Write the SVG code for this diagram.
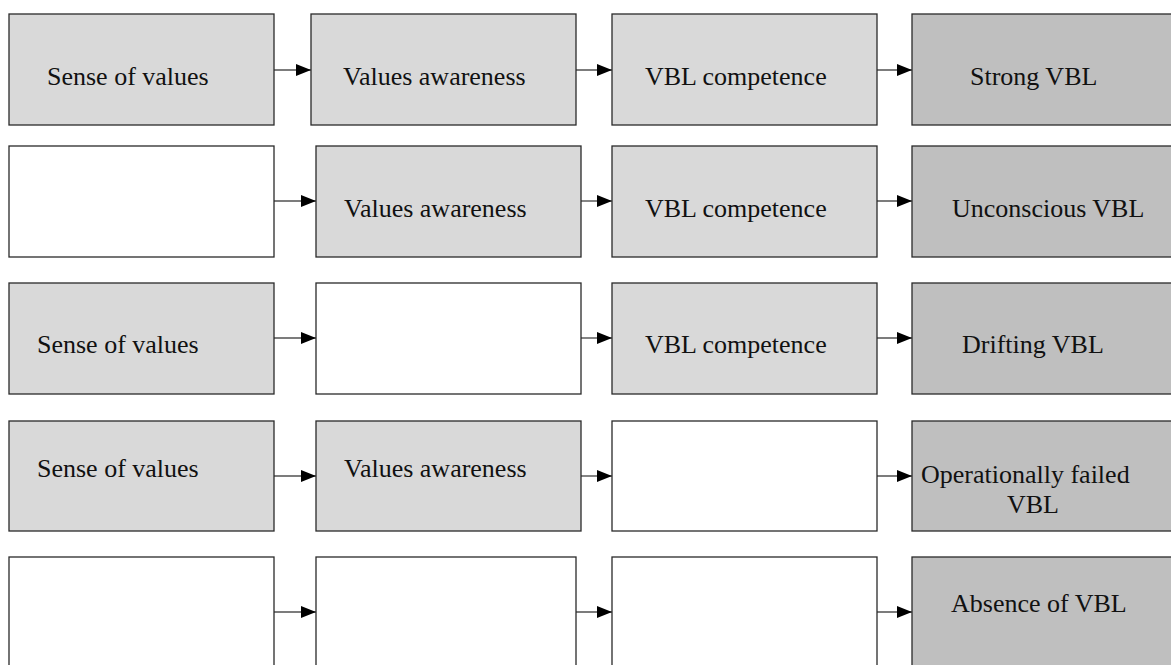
<svg xmlns="http://www.w3.org/2000/svg" width="1171" height="665" viewBox="0 0 1171 665">
<style>
.b{stroke:#2a2a2a;stroke-width:1.3}
.l{fill:#d9d9d9}
.d{fill:#bfbfbf}
.w{fill:#ffffff}
text{font-family:"Liberation Serif","Times New Roman",serif;font-size:26px;fill:#111}
.c line{stroke:#505050;stroke-width:1.4}
</style>
<defs>
<marker id="ah" viewBox="0 0 15 12" refX="15" refY="6" markerWidth="15" markerHeight="12" markerUnits="userSpaceOnUse" orient="auto">
<path d="M0,0 L15,6 L0,12 Z" fill="#000"/>
</marker>
</defs>
<rect width="1171" height="665" fill="#fff"/>
<g class="c" id="connectors">
<line x1="274" y1="70" x2="311" y2="70" marker-end="url(#ah)"/>
<line x1="576" y1="70" x2="612" y2="70" marker-end="url(#ah)"/>
<line x1="877" y1="70" x2="912" y2="70" marker-end="url(#ah)"/>
<line x1="274" y1="201" x2="316" y2="201" marker-end="url(#ah)"/>
<line x1="581" y1="201" x2="612" y2="201" marker-end="url(#ah)"/>
<line x1="877" y1="201" x2="912" y2="201" marker-end="url(#ah)"/>
<line x1="274" y1="338" x2="316" y2="338" marker-end="url(#ah)"/>
<line x1="581" y1="338" x2="612" y2="338" marker-end="url(#ah)"/>
<line x1="877" y1="338" x2="912" y2="338" marker-end="url(#ah)"/>
<line x1="274" y1="476" x2="316" y2="476" marker-end="url(#ah)"/>
<line x1="581" y1="476" x2="612" y2="476" marker-end="url(#ah)"/>
<line x1="877" y1="476" x2="912" y2="476" marker-end="url(#ah)"/>
<line x1="274" y1="612" x2="316" y2="612" marker-end="url(#ah)"/>
<line x1="576" y1="612" x2="612" y2="612" marker-end="url(#ah)"/>
<line x1="877" y1="612" x2="912" y2="612" marker-end="url(#ah)"/>
</g>
<g id="r1b1"><rect class="b l" x="9" y="14" width="265" height="111"/><text x="47" y="85">Sense of values</text></g>
<g id="r1b2"><rect class="b l" x="311" y="14" width="265" height="111"/><text x="343" y="85">Values awareness</text></g>
<g id="r1b3"><rect class="b l" x="612" y="14" width="265" height="111"/><text x="645" y="85">VBL competence</text></g>
<g id="r1b4"><rect class="b d" x="912" y="14" width="270" height="111"/><text x="970" y="85">Strong VBL</text></g>

<g id="r2b1"><rect class="b w" x="9" y="146" width="265" height="111"/></g>
<g id="r2b2"><rect class="b l" x="316" y="146" width="265" height="111"/><text x="344" y="217">Values awareness</text></g>
<g id="r2b3"><rect class="b l" x="612" y="146" width="265" height="111"/><text x="645" y="217">VBL competence</text></g>
<g id="r2b4"><rect class="b d" x="912" y="146" width="270" height="111"/><text x="952" y="217">Unconscious VBL</text></g>

<g id="r3b1"><rect class="b l" x="9" y="283" width="265" height="111"/><text x="37" y="353">Sense of values</text></g>
<g id="r3b2"><rect class="b w" x="316" y="283" width="265" height="111"/></g>
<g id="r3b3"><rect class="b l" x="612" y="283" width="265" height="111"/><text x="645" y="353">VBL competence</text></g>
<g id="r3b4"><rect class="b d" x="912" y="283" width="270" height="111"/><text x="962" y="353">Drifting VBL</text></g>

<g id="r4b1"><rect class="b l" x="9" y="421" width="265" height="110"/><text x="37" y="477">Sense of values</text></g>
<g id="r4b2"><rect class="b l" x="316" y="421" width="265" height="110"/><text x="344" y="477">Values awareness</text></g>
<g id="r4b3"><rect class="b w" x="612" y="421" width="265" height="110"/></g>
<g id="r4b4"><rect class="b d" x="912" y="421" width="270" height="110"/><text x="921" y="483">Operationally failed</text><text x="1007" y="513">VBL</text></g>

<g id="r5b1"><rect class="b w" x="9" y="557" width="265" height="115"/></g>
<g id="r5b2"><rect class="b w" x="316" y="557" width="260" height="115"/></g>
<g id="r5b3"><rect class="b w" x="612" y="557" width="265" height="115"/></g>
<g id="r5b4"><rect class="b d" x="912" y="557" width="270" height="115"/><text x="951" y="612">Absence of VBL</text></g>
</svg>
